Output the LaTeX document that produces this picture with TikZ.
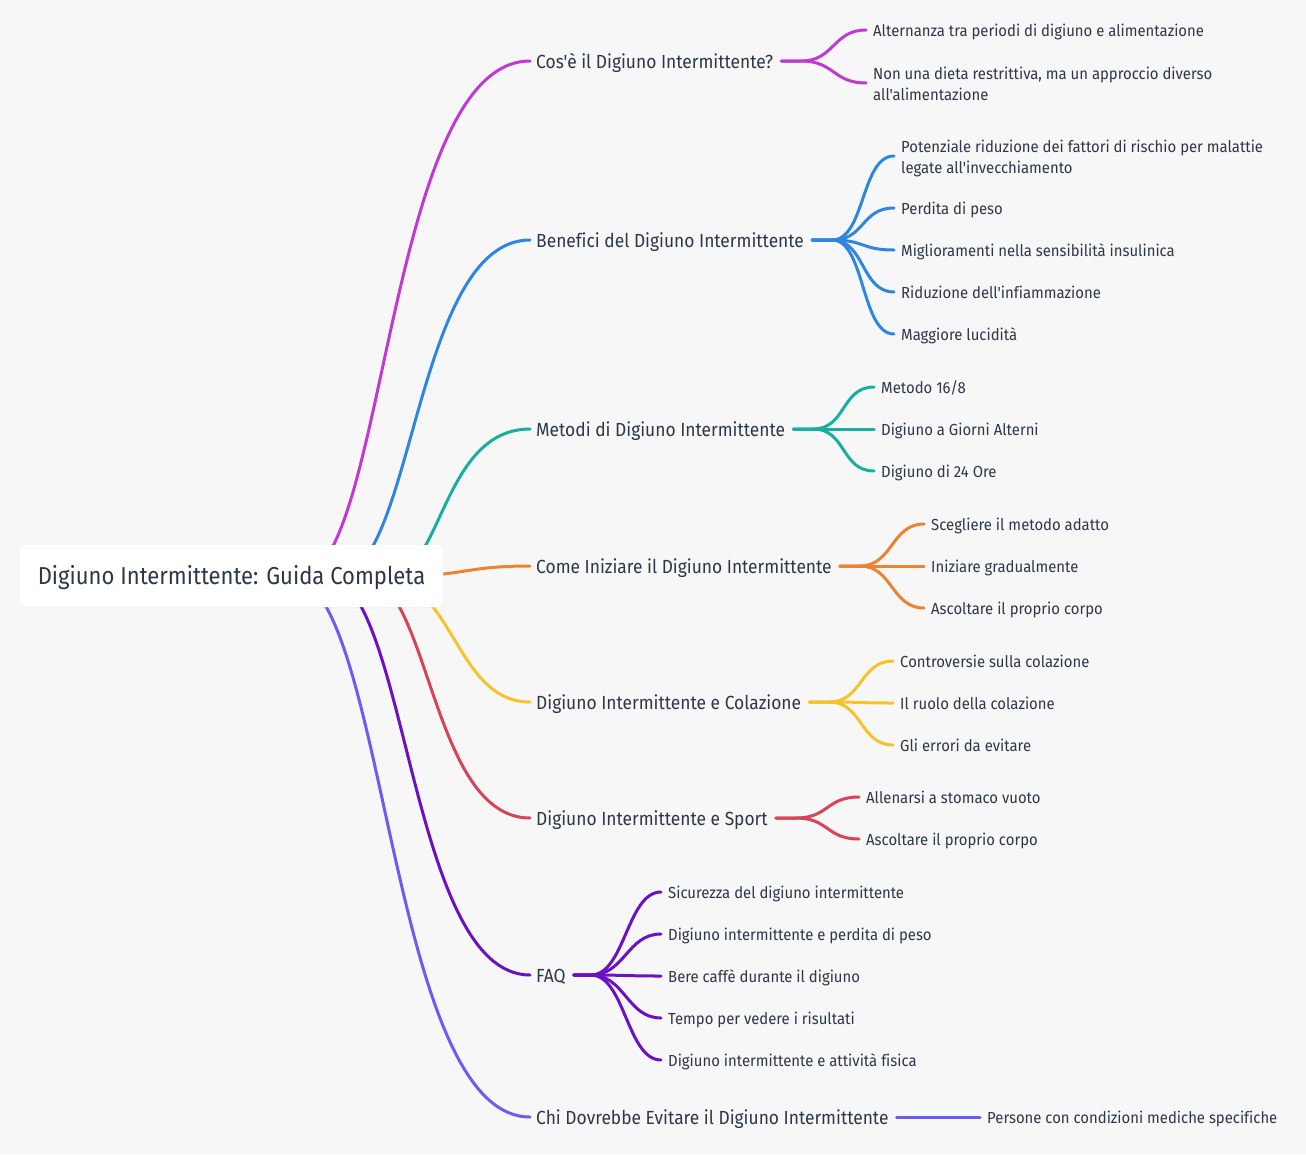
\documentclass[tikz,border=0pt]{standalone}
\usepackage{fontspec}
\newfontfamily\leaffont{Fira Sans}[FakeStretch=0.93,Ligatures=NoCommon]
\newfontfamily\brfont{Fira Sans}[FakeStretch=0.915,Ligatures=NoCommon]
\newfontfamily\rootfont{Fira Sans}[FakeStretch=0.90,Ligatures=NoCommon]
\usetikzlibrary{backgrounds,calc}
\definecolor{bgc}{HTML}{F7F7F7}
\definecolor{txt}{HTML}{2D3748}
\definecolor{cA}{HTML}{C039D0}
\definecolor{cB}{HTML}{2E86DE}
\definecolor{cC}{HTML}{1AAE9F}
\definecolor{cD}{HTML}{EB8334}
\definecolor{cE}{HTML}{F7C22B}
\definecolor{cF}{HTML}{D64458}
\definecolor{cG}{HTML}{6C10C4}
\definecolor{cH}{HTML}{6B5CF6}
\newcommand{\twoline}[2]{\begin{tabular}{@{}l@{}}#1\\#2\end{tabular}}
\begin{document}
\begin{tikzpicture}[x=1pt,y=-1pt,
  leafbase/.style={anchor=west, inner xsep=7pt, inner ysep=0pt, text=txt,
    font={\leaffont\fontsize{16}{21}\selectfont}},
  leaf/.style={leafbase, text height=13pt, text depth=0pt},
  leaftwo/.style={leafbase, text height=28pt, text depth=14pt},
  br/.style={anchor=west, inner xsep=6pt, inner ysep=0pt, text=txt,
    font={\brfont\fontsize{19}{22}\selectfont}, text height=15pt, text depth=0pt},
  rootbox/.style={fill=white, rounded corners=6pt, minimum width=423pt, minimum height=62pt,
    inner sep=0pt, text=txt, font={\rootfont\fontsize{24.5}{28}\selectfont}, text height=16.9pt, text depth=0pt},
  conn/.style={line width=3pt, line cap=round},
  sub/.style={line width=3pt, line cap=round}]
\useasboundingbox (0,0) rectangle (1306,1154);

% branch nodes
\node[br] (b1) at (530,61) {Cos'è il Digiuno Intermittente?};
\node[br] (b2) at (530,240) {Benefici del Digiuno Intermittente};
\node[br] (b3) at (530,429) {Metodi di Digiuno Intermittente};
\node[br] (b4) at (530,566) {Come Iniziare il Digiuno Intermittente};
\node[br] (b5) at (530,702) {Digiuno Intermittente e Colazione};
\node[br] (b6) at (530,818) {Digiuno Intermittente e Sport};
\node[br] (b7) at (530,975) {FAQ};
\node[br] (b8) at (530,1117) {Chi Dovrebbe Evitare il Digiuno Intermittente};

% leaves
\node[leaf] (l11) at (866,30) {Alternanza tra periodi di digiuno e alimentazione};
\node[leaftwo] (l12) at (866,83) {\twoline{Non una dieta restrittiva, ma un approccio diverso}{all'alimentazione}};
\node[leaftwo] (l21) at (894,156) {\twoline{Potenziale riduzione dei fattori di rischio per malattie}{legate all'invecchiamento}};
\node[leaf] (l22) at (894,208) {Perdita di peso};
\node[leaf] (l23) at (894,250) {Miglioramenti nella sensibilità insulinica};
\node[leaf] (l24) at (894,292) {Riduzione dell'infiammazione};
\node[leaf] (l25) at (894,334) {Maggiore lucidità};
\node[leaf] (l31) at (874,387) {Metodo 16/8};
\node[leaf] (l32) at (874,429) {Digiuno a Giorni Alterni};
\node[leaf] (l33) at (874,471) {Digiuno di 24 Ore};
\node[leaf] (l41) at (924,524) {Scegliere il metodo adatto};
\node[leaf] (l42) at (924,566) {Iniziare gradualmente};
\node[leaf] (l43) at (924,608) {Ascoltare il proprio corpo};
\node[leaf] (l51) at (893,661) {Controversie sulla colazione};
\node[leaf] (l52) at (893,703) {Il ruolo della colazione};
\node[leaf] (l53) at (893,745) {Gli errori da evitare};
\node[leaf] (l61) at (859,797) {Allenarsi a stomaco vuoto};
\node[leaf] (l62) at (859,839) {Ascoltare il proprio corpo};
\node[leaf] (l71) at (661,892) {Sicurezza del digiuno intermittente};
\node[leaf] (l72) at (661,934) {Digiuno intermittente e perdita di peso};
\node[leaf] (l73) at (661,976) {Bere caffè durante il digiuno};
\node[leaf] (l74) at (661,1018) {Tempo per vedere i risultati};
\node[leaf] (l75) at (661,1060) {Digiuno intermittente e attività fisica};
\node[leaf] (l81) at (980,1117) {Persone con condizioni mediche specifiche};

% root
\node[rootbox] (root) at (231.5,576) {Digiuno Intermittente: Guida Completa};
\coordinate (r1) at (300,576);
\coordinate (r2) at (337,576);
\coordinate (r3) at (389,576);
\coordinate (r4) at (400,576);
\coordinate (r5) at (378,576);
\coordinate (r6) at (362,576);
\coordinate (r7) at (325,576);
\coordinate (r8) at (289,576);

\begin{pgfonlayer}{background}
\fill[bgc] (0,0) rectangle (1306,1154);
\fill[black!6, rounded corners=6pt] ([xshift=0.5pt,yshift=-1.5pt]root.south west) rectangle ([xshift=-0.5pt,yshift=-3pt]root.north east);
\draw[conn,cA] (r1) .. controls +(86,0) and +(-144,0) .. (b1.west);
\draw[conn,cB] (r2) .. controls +(77,0) and +(-116,0) .. (b2.west);
\draw[conn,cC] (r3) .. controls +(53,0) and +(-88,0) .. (b3.west);
\draw[conn,cD] (r4) .. controls +(65,0) and +(-65,0) .. (b4.west);
\draw[conn,cE] (r5) .. controls +(76,0) and +(-76,0) .. (b5.west);
\draw[conn,cF] (r6) .. controls +(68,0) and +(-100,0) .. (b6.west);
\draw[conn,cG] (r7) .. controls +(83,0) and +(-122,0) .. (b7.west);
\draw[conn,cH] (r8) .. controls +(98,0) and +(-143,0) .. (b8.west);

% sub connectors
\foreach \l in {l11,l12}
  \draw[sub,cA] ([xshift=2pt]b1.east) -- ++(20,0) .. controls +(33,0) and +(-33,0) .. (\l.west);
\foreach \l in {l21,l22,l23,l24,l25}
  \draw[sub,cB] ([xshift=2pt]b2.east) -- ++(20,0) .. controls +(33,0) and +(-33,0) .. (\l.west);
\foreach \l in {l31,l32,l33}
  \draw[sub,cC] ([xshift=2pt]b3.east) -- ++(20,0) .. controls +(33,0) and +(-33,0) .. (\l.west);
\foreach \l in {l41,l42,l43}
  \draw[sub,cD] ([xshift=2pt]b4.east) -- ++(20,0) .. controls +(33,0) and +(-33,0) .. (\l.west);
\foreach \l in {l51,l52,l53}
  \draw[sub,cE] ([xshift=2pt]b5.east) -- ++(20,0) .. controls +(33,0) and +(-33,0) .. (\l.west);
\foreach \l in {l61,l62}
  \draw[sub,cF] ([xshift=2pt]b6.east) -- ++(20,0) .. controls +(33,0) and +(-33,0) .. (\l.west);
\foreach \l in {l71,l72,l73,l74,l75}
  \draw[sub,cG] ([xshift=2pt]b7.east) -- ++(17,0) .. controls +(34,0) and +(-34,0) .. (\l.west);
\draw[sub,cH] ([xshift=2pt]b8.east) -- (l81.west);
\end{pgfonlayer}
\end{tikzpicture}
\end{document}
